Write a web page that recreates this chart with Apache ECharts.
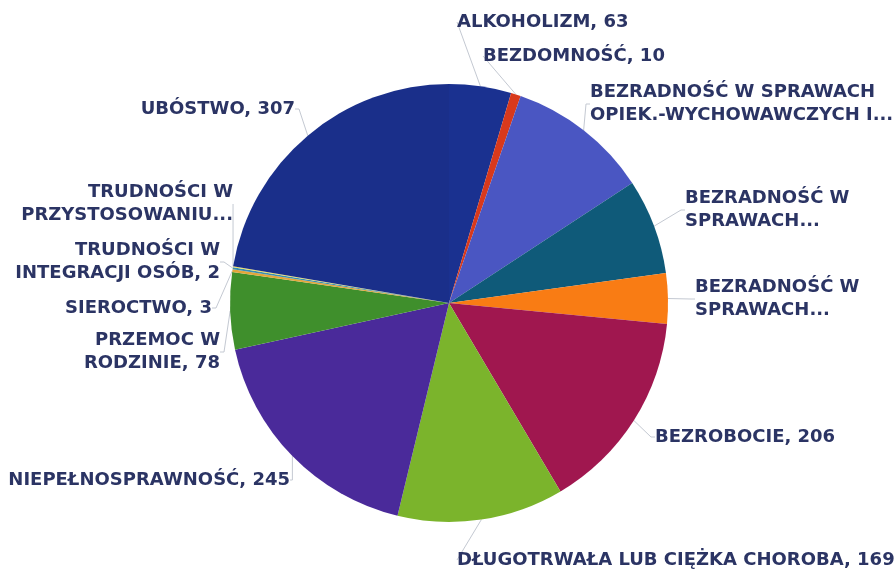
<!DOCTYPE html>
<html>
<head>
<meta charset="utf-8">
<script src="https://cdn.jsdelivr.net/npm/echarts@6/dist/echarts.min.js"></script>
<style>
    html, body {margin: 0; padding: 0; background: #fff;}
    #chart {width: 896px; height: 571px;}
</style>
</head>
<body>
<div id="chart"></div>
<script>
// kategorie (tekst etykiet jak na wykresie, "..." = obcięte)
var names = [
    'ALKOHOLIZM',
    'BEZDOMNOŚĆ',
    'BEZRADNOŚĆ W SPRAWACH\nOPIEK.-WYCHOWAWCZYCH I...',
    'BEZRADNOŚĆ W\nSPRAWACH...',
    'BEZRADNOŚĆ W\nSPRAWACH...',
    'BEZROBOCIE',
    'DŁUGOTRWAŁA LUB CIĘŻKA CHOROBA',
    'NIEPEŁNOSPRAWNOŚĆ',
    'PRZEMOC W\nRODZINIE',
    'SIEROCTWO',
    'TRUDNOŚCI W\nINTEGRACJI OSÓB',
    'TRUDNOŚCI W\nPRZYSTOSOWANIU...',
    'UBÓSTWO'
];
var values = [63, 10, 144, 97, 51, 206, 169, 245, 78, 3, 2, 1, 307];

var colors = ['#1a3190', '#d8391c', '#4a56c2', '#0f5a79', '#f97c14', '#a0174f',
    '#7bb42c', '#4a2a9a', '#3f8f2c', '#e3a63a', '#3a8fb0', '#f0e05a', '#1a2f8a'];

// położenie etykiet: [x, y, wyrównanie]
var labelPos = [
    [457, 22, 'left'], [483, 56, 'left'], [590, 104, 'left'], [685, 210, 'left'],
    [695, 299, 'left'], [655, 437, 'left'], [457, 560, 'left'], [290, 480, 'right'],
    [220, 352, 'right'], [212, 308, 'right'], [220, 262, 'right'], [233, 204, 'right'],
    [295, 109, 'right']
];

var data = [];
for (var i = 0; i < names.length; i++) {
    data.push({name: names[i], value: values[i], itemStyle: {color: colors[i]}});
}

var myChart = echarts.init(document.getElementById('chart'));
var option = {
    backgroundColor: '#fff',
    animation: false,
    series: [{
        type: 'pie',
        center: [449, 303],
        radius: 219,
        startAngle: 90,
        clockwise: true,
        avoidLabelOverlap: false,
        data: data,
        label: {
            show: true,
            color: '#2b3464',
            fontFamily: 'DejaVu Sans',
            fontWeight: 'bold',
            fontSize: 18,
            lineHeight: 23,
            formatter: function (p) {
                if (p.name.slice(-3) === '...') return p.name;
                return p.name + ', ' + p.value;
            }
        },
        labelLine: {
            show: true,
            length: 8,
            length2: 4,
            lineStyle: {color: '#c4c9d2', width: 1}
        },
        labelLayout: function (p) {
            var lp = labelPos[p.dataIndex];
            return {x: lp[0], y: lp[1], align: lp[2], verticalAlign: 'middle'};
        }
    }]
};

myChart.setOption(option);
</script>
</body>
</html>
